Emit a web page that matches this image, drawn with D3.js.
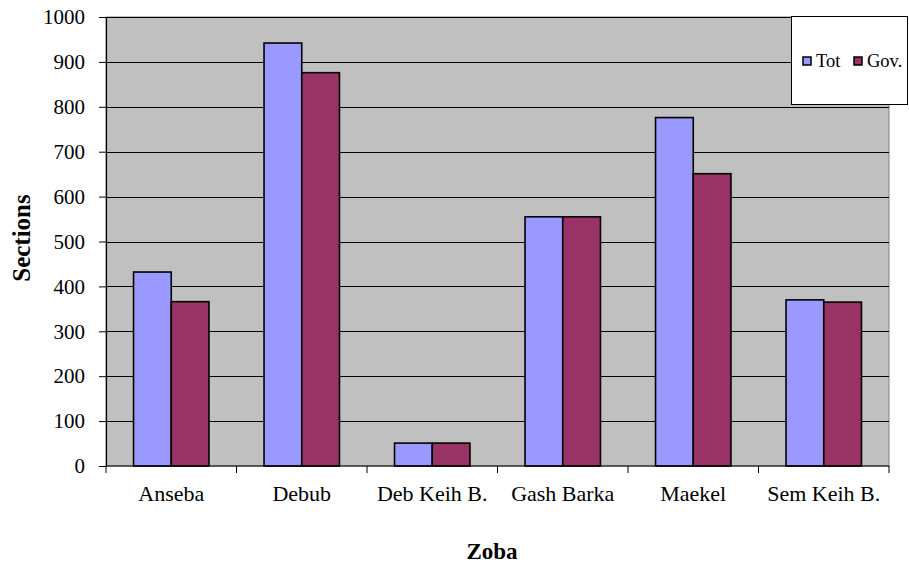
<!DOCTYPE html>
<html>
<head>
<meta charset="utf-8">
<script src="https://cdn.jsdelivr.net/npm/d3@7"></script>
<style>
  body { margin: 0; background: #fff; }
  svg text { font-family: "Liberation Serif", "Times New Roman", serif; fill: #000; }
</style>
</head>
<body>
<div id="container"></div>
<script>
// chart data
var zobas = ["Anseba", "Debub", "Deb Keih B.", "Gash Barka", "Maekel", "Sem Keih B."];
var tot = [432, 942, 51, 555, 776, 370];
var gov = [366, 876, 51, 555, 651, 365];
var seriesNames = ["Tot", "Gov."];
var yTicks = [0, 100, 200, 300, 400, 500, 600, 700, 800, 900, 1000];

var w = 909, h = 566;
var plot = { left: 106, top: 17, right: 889, bottom: 466 };
var colors = ["#9999FF", "#993366"];

var svg = d3.select("#container").append("svg")
  .attr("width", w).attr("height", h);

var x = d3.scaleBand().domain(zobas).range([plot.left, plot.right]);
var xInner = d3.scaleBand().domain(seriesNames)
  .range([0, x.bandwidth()]).paddingOuter(0.73);
var y = d3.scaleLinear().domain([0, 1000]).range([plot.bottom, plot.top]);

// plot background
svg.append("rect")
  .attr("x", plot.left).attr("y", plot.top)
  .attr("width", plot.right - plot.left).attr("height", plot.bottom - plot.top)
  .attr("fill", "#C0C0C0")
  .attr("stroke", "#808080").attr("stroke-width", 1);

// gridlines
svg.append("g").selectAll("line")
  .data(yTicks.filter(function(d) { return d > 0; }))
  .join("line")
  .attr("x1", plot.left).attr("x2", plot.right)
  .attr("y1", function(d) { return Math.round(y(d)) + 0.5; })
  .attr("y2", function(d) { return Math.round(y(d)) + 0.5; })
  .attr("stroke", "#000").attr("stroke-width", 1);

// bars
var rows = zobas.map(function(z, i) { return { zoba: z, vals: [tot[i], gov[i]] }; });
var groups = svg.append("g").selectAll("g")
  .data(rows).join("g")
  .attr("transform", function(d) { return "translate(" + x(d.zoba) + ",0)"; });
groups.selectAll("rect")
  .data(function(d) { return d.vals.map(function(v, j) { return { name: seriesNames[j], v: v, j: j }; }); })
  .join("rect")
  .attr("x", function(d) { return xInner(d.name); })
  .attr("y", function(d) { return y(d.v); })
  .attr("width", xInner.bandwidth())
  .attr("height", function(d) { return y(0) - y(d.v); })
  .attr("fill", function(d) { return colors[d.j]; })
  .attr("stroke", "#000").attr("stroke-width", 1.6);

// y axis
var yAxis = svg.append("g")
  .attr("transform", "translate(" + plot.left + ",0)")
  .call(d3.axisLeft(y).tickValues(yTicks).tickFormat(d3.format("d")).tickSize(7).tickPadding(14));
yAxis.attr("font-family", null);
yAxis.select(".domain").attr("stroke", "#000").attr("stroke-width", 1.2);
yAxis.selectAll("text").attr("font-size", 21);

// x axis
var xAxis = svg.append("g")
  .attr("transform", "translate(0," + plot.bottom + ")");
xAxis.append("line")
  .attr("x1", plot.left).attr("x2", plot.right)
  .attr("y1", 0).attr("y2", 0)
  .attr("stroke", "#000").attr("stroke-width", 1.2);
var xTickPos = zobas.map(function(z) { return x(z); }).concat([plot.right]);
xAxis.selectAll("line.tk").data(xTickPos).join("line")
  .attr("class", "tk")
  .attr("x1", function(d) { return d; }).attr("x2", function(d) { return d; })
  .attr("y1", 0).attr("y2", 7)
  .attr("stroke", "#000");
xAxis.selectAll("text").data(zobas).join("text")
  .attr("x", function(d) { return x(d) + x.bandwidth() / 2; })
  .attr("y", 35)
  .attr("text-anchor", "middle")
  .attr("font-size", 22)
  .text(function(d) { return d; });

// axis titles
svg.append("text")
  .attr("transform", "translate(30,238) rotate(-90)")
  .attr("text-anchor", "middle")
  .attr("font-size", 25).attr("font-weight", "bold")
  .text("Sections");
svg.append("text")
  .attr("x", 492).attr("y", 559)
  .attr("text-anchor", "middle")
  .attr("font-size", 23).attr("font-weight", "bold")
  .text("Zoba");

// legend
var legend = svg.append("g");
legend.append("rect")
  .attr("x", 791.5).attr("y", 16.5)
  .attr("width", 116).attr("height", 88)
  .attr("fill", "#fff").attr("stroke", "#000");
var lx = [803, 854];
seriesNames.forEach(function(n, i) {
  legend.append("rect")
    .attr("x", lx[i]).attr("y", 57)
    .attr("width", 8).attr("height", 8)
    .attr("fill", colors[i]).attr("stroke", "#000").attr("stroke-width", 1.5);
  legend.append("text")
    .attr("x", lx[i] + 13).attr("y", 67)
    .attr("font-size", 18.5)
    .text(n);
});
</script>
</body>
</html>
